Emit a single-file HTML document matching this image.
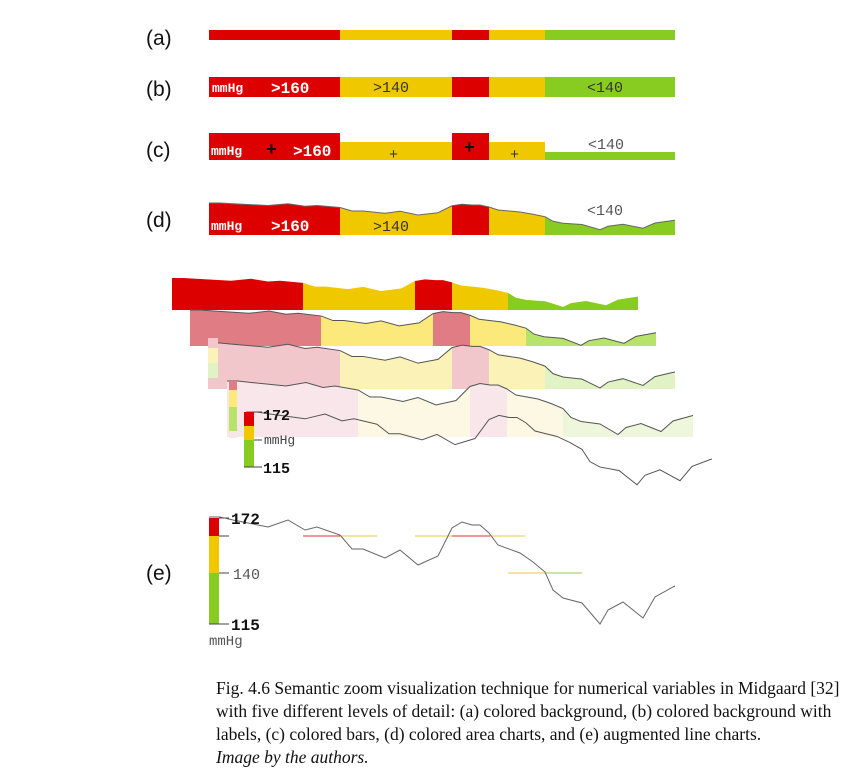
<!DOCTYPE html>
<html><head><meta charset="utf-8"><style>
html,body{margin:0;padding:0;background:#fff;}
svg{display:block}
.lab{font-family:"Liberation Sans",sans-serif;font-size:21px;fill:#111}
.m{font-family:"Liberation Mono",monospace;}
.cap{font-family:"Liberation Serif",serif;font-size:17.5px;fill:#111}
</style></head><body>
<svg id="s" width="852" height="779" xmlns="http://www.w3.org/2000/svg">
<text class="lab" x="146" y="45">(a)</text>
<text class="lab" x="146" y="96">(b)</text>
<text class="lab" x="146" y="157">(c)</text>
<text class="lab" x="146" y="227">(d)</text>
<text class="lab" x="146" y="580">(e)</text>
<g id="g"></g>
<text class="cap" x="216" y="694">Fig. 4.6 Semantic zoom visualization technique for numerical variables in Midgaard [32]</text>
<text class="cap" x="216" y="717">with five different levels of detail: (a) colored background, (b) colored background with</text>
<text class="cap" x="216" y="740">labels, (c) colored bars, (d) colored area charts, and (e) augmented line charts.</text>
<text class="cap" x="216" y="763" font-style="italic">Image by the authors.</text>
</svg>
<script>
var g=document.getElementById('g');var h='';
var B=[0,131,243,280,336,466];
var C0=['#dd0000','#f0c800','#dd0000','#f0c800','#88cc22'];
var E=[[0,517],[11,517],[24,520],[59,527],[79,520],[96,530],[108,527],[131,535],[143,549],[154,549],[176,558],[191,550],[209,565],[229,556],[243,528],[253,522],[263,525],[271,525],[280,533],[289,545],[311,553],[324,562],[336,572],[344,590],[354,598],[373,603],[391,624],[399,610],[414,602],[434,618],[446,597],[464,587],[466,586]];
function segMask(x0,ySeg,yb,cols,T,k){
 for(var i=0;i<5;i++){
  var a=B[i],b=B[i+1],pts=[];
  pts.push((x0+a)+','+yb);
  pts.push((x0+a)+','+yAt(a,T,k));
  E.forEach(function(p){if(p[0]>a&&p[0]<b)pts.push((x0+p[0])+','+(T+(p[1]-517)*k));});
  pts.push((x0+b)+','+yAt(b,T,k));pts.push((x0+b)+','+yb);
  h+='<polygon points="'+pts.join(' ')+'" fill="'+cols[i]+'"/>';
 }
}
function yAt(x,T,k){for(var i=0;i<E.length-1;i++){if(x>=E[i][0]&&x<=E[i+1][0]){var t=(x-E[i][0])/((E[i+1][0]-E[i][0])||1);return T+((E[i][1]+t*(E[i+1][1]-E[i][1]))-517)*k;}}return T+(E[E.length-1][1]-517)*k;}
function line(x0,T,k,c,ext){var p=E.map(function(q){return (x0+q[0])+','+(T+(q[1]-517)*k)}).join(' ');h+='<polyline points="'+p+'" fill="none" stroke="'+(c||'#555')+'" stroke-width="1"/>';}
for(var i=0;i<5;i++)h+='<rect x="'+(209+B[i])+'" y="30" width="'+(B[i+1]-B[i])+'" height="10" fill="'+C0[i]+'"/>';
for(var i=0;i<5;i++)h+='<rect x="'+(209+B[i])+'" y="77" width="'+(B[i+1]-B[i])+'" height="20" fill="'+C0[i]+'"/>';
h+='<text class="m" x="212" y="92" font-size="13" font-weight="bold" fill="#fff">mmHg</text><text class="m" x="271" y="93" font-size="16" font-weight="bold" fill="#fff">&gt;160</text><text class="m" x="373" y="92" font-size="15" fill="#333">&gt;140</text><text class="m" x="587" y="92" font-size="15" fill="#333">&lt;140</text>';
var cy=[133,142,133,142,152];
for(var i=0;i<5;i++)h+='<rect x="'+(209+B[i])+'" y="'+cy[i]+'" width="'+(B[i+1]-B[i])+'" height="'+(160-cy[i])+'" fill="'+C0[i]+'"/>';
h+='<text class="m" x="211" y="155" font-size="13" font-weight="bold" fill="#fff">mmHg</text><text class="m" x="293" y="156" font-size="16" font-weight="bold" fill="#fff">&gt;160</text><text class="m" x="266" y="155" font-size="18" font-weight="bold" fill="#111">+</text><text class="m" x="389" y="159" font-size="15" fill="#333">+</text><text class="m" x="464" y="153" font-size="18" font-weight="bold" fill="#111">+</text><text class="m" x="510" y="159" font-size="15" fill="#333">+</text><text class="m" x="588" y="149" font-size="15" fill="#555">&lt;140</text>';
segMask(209,0,235,C0,203,0.25);line(209,203,0.25,'#666');
h+='<text class="m" x="211" y="230" font-size="13" font-weight="bold" fill="#fff">mmHg</text><text class="m" x="271" y="231" font-size="16" font-weight="bold" fill="#fff">&gt;160</text><text class="m" x="373" y="231" font-size="15" fill="#333">&gt;140</text><text class="m" x="587" y="215" font-size="15" fill="#555">&lt;140</text>';
segMask(172,0,310,C0,278,0.27);
segMask(190,0,346,['#e07c84','#fbe97c','#e07c84','#fbe97c','#b8e36a'],310,0.33);line(190,310,0.33);
segMask(209,0,389,['#f2c7cc','#fbf2b8','#f2c7cc','#fbf2b8','#e1f3c4'],343,0.42);line(209,343,0.42);
h+='<rect x="208" y="338" width="10" height="10" fill="#f2c7cc"/><rect x="208" y="348" width="10" height="15" fill="#fbf2b8"/><rect x="208" y="363" width="10" height="15" fill="#e1f3c4"/><rect x="208" y="378" width="10" height="11" fill="#f2c7cc"/>';
segMask(227,0,437,['#f8e6ea','#fdf8e3','#f8e6ea','#fdf8e3','#eef7dc'],381,0.5);line(227,381,0.5);
h+='<rect x="229" y="381" width="8" height="9" fill="#e07c84"/><rect x="229" y="390" width="8" height="17" fill="#fbe97c"/><rect x="229" y="407" width="8" height="24" fill="#b8e36a"/><rect x="229" y="431" width="8" height="7" fill="#f8e6ea"/>';
line(246,412,0.68);
h+='<rect x="244" y="412" width="10" height="14" fill="#dd0000"/><rect x="244" y="426" width="10" height="14" fill="#f0c800"/><rect x="244" y="440" width="10" height="27" fill="#88cc22"/><line x1="254" y1="412" x2="262" y2="412" stroke="#444"/><line x1="254" y1="440" x2="262" y2="440" stroke="#444"/><line x1="254" y1="467" x2="262" y2="467" stroke="#444"/><line x1="244" y1="467" x2="254" y2="467" stroke="#444"/>';
h+='<text class="m" x="263" y="420" font-size="15" font-weight="bold" fill="#111">172</text><text class="m" x="264" y="444" font-size="13" fill="#444">mmHg</text><text class="m" x="263" y="473" font-size="15" font-weight="bold" fill="#111">115</text>';
h+='<rect x="209" y="518" width="10" height="18" fill="#dd0000"/><rect x="209" y="536" width="10" height="37" fill="#f0c800"/><rect x="209" y="573" width="10" height="51" fill="#88cc22"/>';
h+='<line x1="219" y1="518" x2="229" y2="518" stroke="#444"/><line x1="219" y1="536" x2="229" y2="536" stroke="#444"/><line x1="219" y1="573" x2="229" y2="573" stroke="#444"/><line x1="209" y1="624" x2="229" y2="624" stroke="#444"/>';
h+='<line x1="303" y1="536" x2="340" y2="536" stroke="#d33"/><line x1="340" y1="536" x2="377" y2="536" stroke="#e8c840"/><line x1="415" y1="536" x2="452" y2="536" stroke="#e8c840"/><line x1="452" y1="536" x2="490" y2="536" stroke="#d33"/><line x1="490" y1="536" x2="525" y2="536" stroke="#e8c840"/><line x1="508" y1="573" x2="545" y2="573" stroke="#e8c840"/><line x1="545" y1="573" x2="582" y2="573" stroke="#9c4"/>';
line(209,517,1,'#666');
h+='<text class="m" x="231" y="524" font-size="16" font-weight="bold" fill="#111">172</text><text class="m" x="233" y="579" font-size="15" fill="#555">140</text><text class="m" x="231" y="630" font-size="16" font-weight="bold" fill="#111">115</text><text class="m" x="209" y="645" font-size="14" fill="#555">mmHg</text>';
g.innerHTML=h;
</script>
</body></html>
